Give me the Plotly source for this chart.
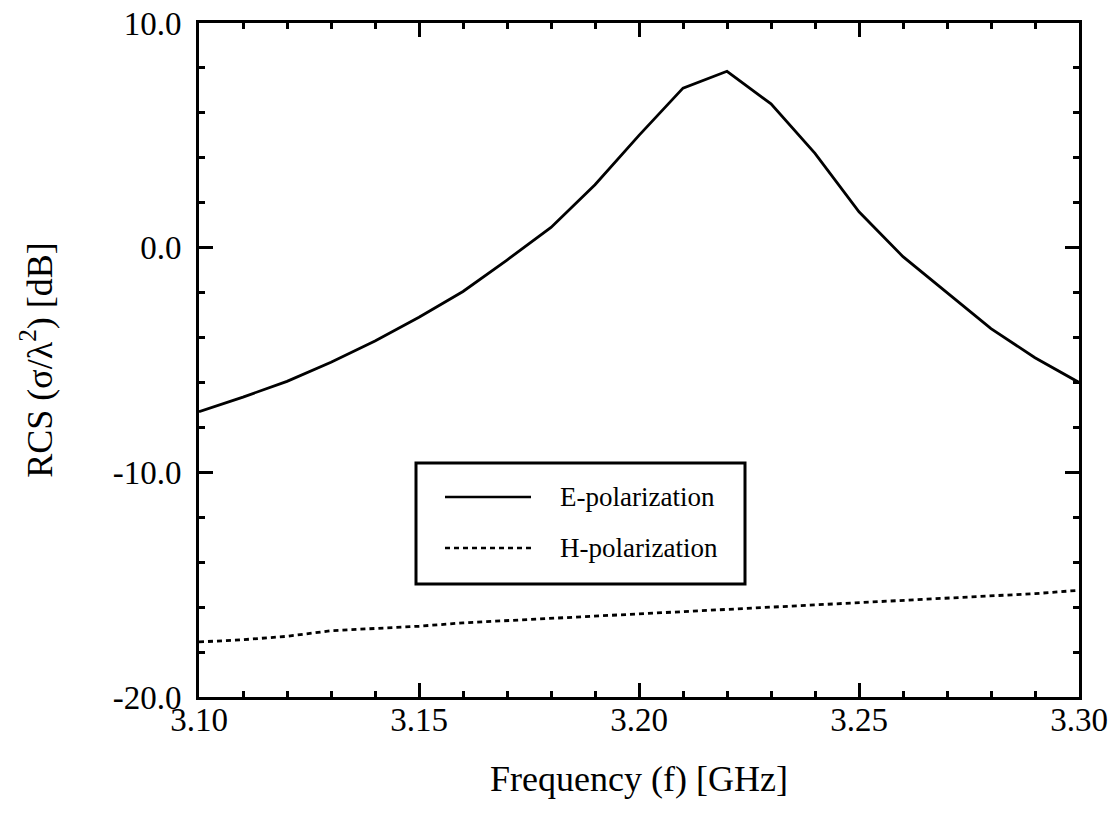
import plotly.graph_objects as go

freq = [3.10, 3.11, 3.12, 3.13, 3.14, 3.15, 3.16, 3.17, 3.18, 3.19, 3.20,
        3.21, 3.22, 3.23, 3.24, 3.25, 3.26, 3.27, 3.28, 3.29, 3.30]
e_pol = [-7.3, -6.65, -5.95, -5.1, -4.15, -3.1, -1.95, -0.55, 0.9, 2.8, 5.0,
         7.1, 7.85, 6.4, 4.2, 1.6, -0.4, -2.0, -3.6, -4.9, -6.0]
h_pol = [-17.55, -17.45, -17.3, -17.05, -16.95, -16.85, -16.7, -16.6, -16.5, -16.4, -16.3,
         -16.2, -16.1, -16.0, -15.9, -15.8, -15.7, -15.6, -15.5, -15.4, -15.25]
x_ticks = [3.10, 3.15, 3.20, 3.25, 3.30]
x_labels = ["3.10", "3.15", "3.20", "3.25", "3.30"]
y_ticks = [-20, -10, 0, 10]
y_labels = ["-20.0", "-10.0", "0.0", "10.0"]
legend_names = ["E-polarization", "H-polarization"]

W, H = 1120, 837
L, R, T, B = 199, 41, 23, 140
FONT = "Liberation Serif, Times New Roman, serif"

fig = go.Figure()
fig.add_trace(go.Scatter(x=freq, y=e_pol, mode="lines", name=legend_names[0],
                         line=dict(color="black", width=2.8), showlegend=False))
fig.add_trace(go.Scatter(x=freq, y=h_pol, mode="lines", name=legend_names[1],
                         line=dict(color="black", width=2.8, dash="5px,4px"), showlegend=False))

axis_common = dict(
    showline=True, linecolor="black", linewidth=3, mirror="allticks",
    ticks="inside", ticklen=14, tickwidth=2.5, tickcolor="black",
    showgrid=False, zeroline=False, automargin=False,
    tickfont=dict(family=FONT, size=33, color="black"),
)

fig.update_xaxes(range=[3.10, 3.30], tickvals=x_ticks, ticktext=x_labels,
                 minor=dict(ticks="inside", ticklen=6, tickwidth=2.5, tickcolor="black", dtick=0.01),
                 title=dict(text="Frequency (f) [GHz]", font=dict(family=FONT, size=36, color="black"), standoff=30),
                 ticklabelstandoff=-9,
                 **axis_common)
fig.update_yaxes(range=[-20, 10], tickvals=y_ticks, ticktext=y_labels,
                 minor=dict(ticks="inside", ticklen=6, tickwidth=2.5, tickcolor="black", dtick=2),
                 title=dict(text="RCS (σ/λ<sup>2</sup>) [dB]", font=dict(family=FONT, size=36, color="black"), standoff=50),
                 ticklabelstandoff=8,
                 **axis_common)

pw = W - L - R
ph = H - T - B
def px(x):
    return (x - L) / pw
def py(y):
    return 1 - (y - T) / ph

# custom legend box
fig.add_shape(type="rect", xref="paper", yref="paper",
              x0=px(416), x1=px(745), y0=py(584), y1=py(463),
              line=dict(color="black", width=3), fillcolor="white", layer="above")
fig.add_shape(type="line", xref="paper", yref="paper",
              x0=px(445), x1=px(531), y0=py(497), y1=py(497),
              line=dict(color="black", width=2.6), layer="above")
fig.add_shape(type="line", xref="paper", yref="paper",
              x0=px(445), x1=px(531), y0=py(548), y1=py(548),
              line=dict(color="black", width=2.6, dash="5px,4px"), layer="above")
fig.add_annotation(xref="paper", yref="paper", x=px(558), y=py(497), text=legend_names[0],
                   showarrow=False, xanchor="left", yanchor="middle",
                   font=dict(family=FONT, size=27, color="black"))
fig.add_annotation(xref="paper", yref="paper", x=px(558), y=py(548), text=legend_names[1],
                   showarrow=False, xanchor="left", yanchor="middle",
                   font=dict(family=FONT, size=27, color="black"))

fig.update_layout(width=W, height=H, margin=dict(l=L, r=R, t=T, b=B),
                  plot_bgcolor="white", paper_bgcolor="white", showlegend=False)

fig.write_html("out.html")
